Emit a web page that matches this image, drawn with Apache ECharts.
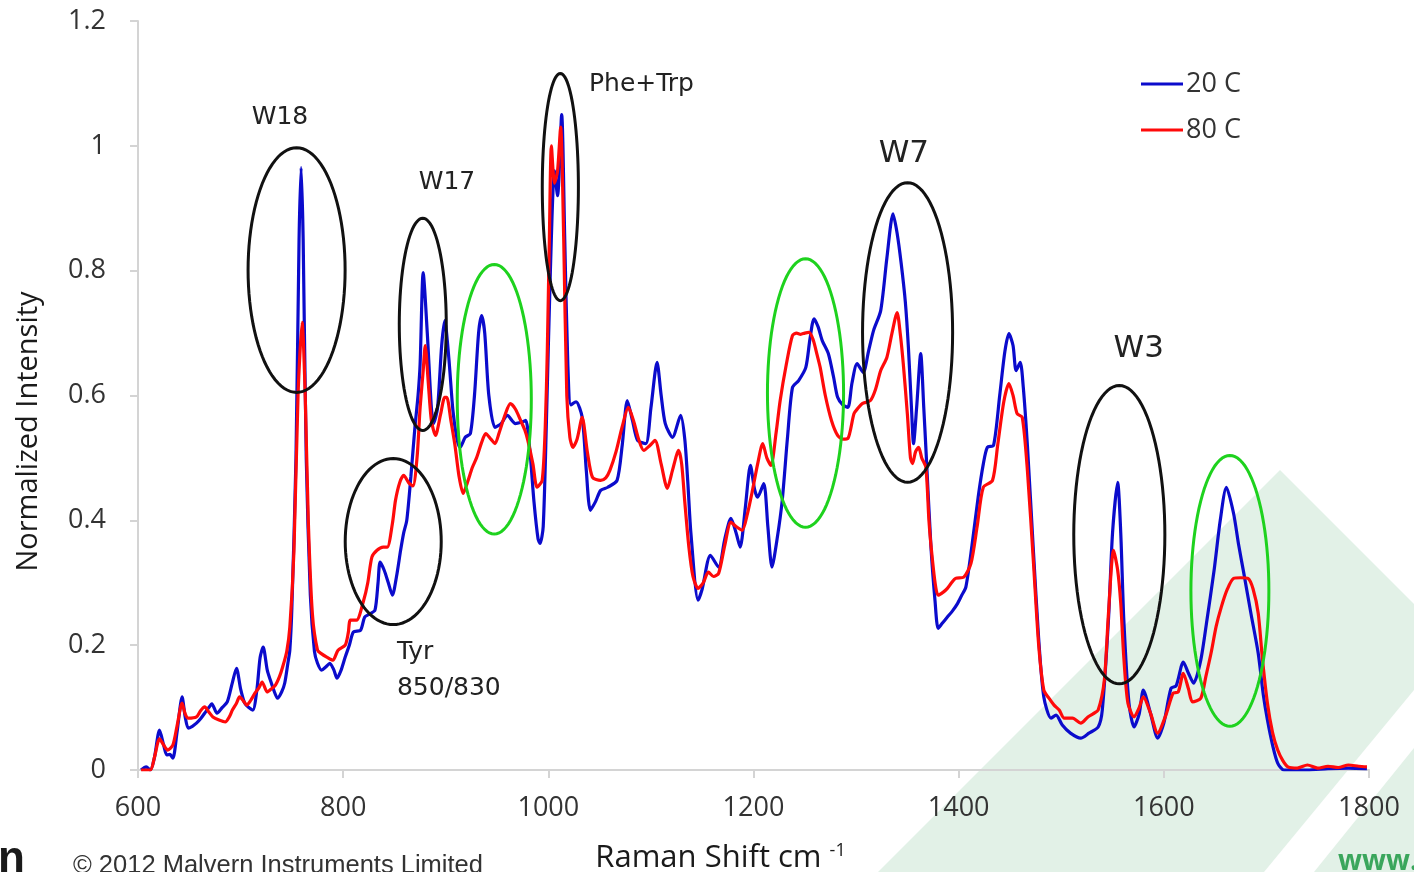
<!DOCTYPE html>
<html>
<head>
<meta charset="utf-8">
<script src="https://cdn.jsdelivr.net/npm/echarts@6/dist/echarts.min.js"></script>
<style>html,body{margin:0;padding:0;background:#fff;}#c{width:1414px;height:872px;}</style>
</head>
<body>
<div id="c"></div>
<script>
// ---- data ----
const xTicks = [600, 800, 1000, 1200, 1400, 1600, 1800];
const yTicks = [0, 0.2, 0.4, 0.6, 0.8, 1, 1.2];

const blueShift = [603,608,612,616,621,625,628,631,634,638,643,646,649,653,657,661,665,669,672,677,682,687,692,696,700,704,708,712,716,719,722,726,729,733,736,740,743,746,748,750,754,757,759,761,764,768,772,775,779,783,787,791,794,798,802,806,810,817,821,826,831,834,836,840,844,848,852,856,859,862,866,870,873,875,878,882,886,888,892,896,899,903,907,911,914,919,924,928,932,935,938,942,948,954,960,968,975,978,982,986,990,992,995,998,1002,1006,1009,1013,1016,1019,1022,1027,1033,1037,1041,1046,1051,1058,1067,1072,1077,1082,1087,1095,1100,1106,1110,1114,1121,1129,1133,1136,1139,1146,1150,1158,1166,1172,1178,1183,1187,1192,1197,1201,1204,1210,1214,1218,1223,1228,1233,1238,1244,1251,1255,1259,1263,1267,1273,1278,1282,1287,1292,1296,1301,1307,1312,1317,1324,1330,1336,1340,1344,1348,1351,1354,1356,1359,1363,1366,1368,1373,1377,1380,1384,1389,1394,1399,1403,1407,1413,1419,1424,1428,1434,1440,1445,1449,1453,1456,1460,1463,1467,1473,1478,1483,1490,1495,1501,1509,1519,1527,1536,1540,1546,1550,1555,1558,1561,1566,1571,1576,1580,1587,1594,1600,1607,1612,1619,1624,1629,1636,1642,1649,1655,1661,1668,1673,1678,1685,1692,1697,1701,1706,1711,1717,1740,1760,1780,1798];
const blueIntensity = [0,0.005,0,0.02,0.064,0.04,0.024,0.025,0.019,0.06,0.117,0.085,0.067,0.07,0.075,0.082,0.091,0.1,0.106,0.091,0.1,0.109,0.14,0.163,0.13,0.107,0.1,0.096,0.13,0.18,0.197,0.16,0.144,0.125,0.115,0.125,0.139,0.17,0.192,0.26,0.5,0.85,0.965,0.85,0.5,0.28,0.19,0.171,0.16,0.165,0.171,0.16,0.147,0.16,0.181,0.2,0.221,0.224,0.245,0.25,0.256,0.3,0.333,0.32,0.3,0.28,0.31,0.352,0.38,0.4,0.47,0.55,0.6,0.65,0.797,0.7,0.58,0.555,0.58,0.68,0.72,0.66,0.576,0.53,0.517,0.533,0.539,0.6,0.7,0.728,0.7,0.6,0.549,0.555,0.568,0.555,0.558,0.56,0.512,0.43,0.37,0.363,0.39,0.55,0.8,0.96,0.92,1.05,0.85,0.65,0.585,0.59,0.565,0.48,0.416,0.43,0.448,0.453,0.464,0.52,0.592,0.56,0.528,0.523,0.58,0.653,0.6,0.555,0.533,0.568,0.53,0.46,0.379,0.272,0.29,0.344,0.325,0.37,0.403,0.38,0.357,0.42,0.488,0.45,0.437,0.459,0.39,0.325,0.37,0.432,0.53,0.613,0.624,0.645,0.69,0.723,0.71,0.688,0.667,0.63,0.597,0.585,0.581,0.62,0.651,0.637,0.67,0.704,0.736,0.82,0.891,0.86,0.811,0.75,0.677,0.58,0.523,0.58,0.667,0.58,0.517,0.357,0.27,0.227,0.235,0.245,0.255,0.267,0.28,0.293,0.36,0.437,0.49,0.517,0.52,0.6,0.67,0.699,0.68,0.64,0.653,0.613,0.52,0.347,0.21,0.117,0.083,0.088,0.072,0.059,0.051,0.059,0.069,0.096,0.24,0.38,0.461,0.38,0.24,0.107,0.069,0.09,0.128,0.091,0.051,0.075,0.131,0.135,0.173,0.155,0.139,0.176,0.24,0.32,0.4,0.453,0.411,0.36,0.315,0.25,0.187,0.12,0.08,0.04,0.011,0,0,0.002,0.003,0.002];

const redShift = [603,612,616,621,625,629,634,638,643,646,649,657,661,665,669,673,679,685,689,692,696,699,703,706,710,714,718,721,726,730,734,738,741,745,748,752,756,760,763,766,770,775,779,784,790,795,802,805,807,813,820,824,828,833,839,843,848,851,855,859,864,868,872,875,878,880,883,886,890,895,899,901,905,909,913,917,921,926,930,935,939,944,948,952,958,963,968,973,977,980,985,989,994,997,999,1001,1003,1006,1009,1012,1015,1018,1021,1024,1028,1033,1038,1043,1051,1056,1060,1066,1072,1078,1083,1088,1093,1099,1104,1110,1116,1121,1127,1130,1133,1137,1141,1146,1151,1156,1161,1166,1172,1178,1183,1189,1194,1199,1204,1209,1213,1217,1222,1226,1232,1238,1242,1246,1250,1254,1258,1262,1265,1270,1276,1282,1287,1292,1298,1302,1306,1314,1319,1324,1330,1335,1340,1343,1346,1350,1353,1355,1358,1361,1364,1368,1371,1373,1377,1380,1385,1389,1393,1397,1405,1412,1418,1424,1433,1438,1444,1449,1453,1457,1462,1467,1473,1478,1483,1488,1493,1498,1503,1511,1519,1526,1531,1536,1542,1546,1551,1555,1558,1561,1565,1571,1576,1580,1587,1594,1602,1609,1614,1619,1624,1628,1636,1641,1646,1651,1656,1662,1668,1675,1682,1687,1692,1696,1701,1706,1711,1716,1721,1730,1740,1750,1760,1770,1780,1790,1798];
const redIntensity = [0,0,0.02,0.05,0.04,0.032,0.04,0.07,0.107,0.09,0.083,0.085,0.095,0.101,0.093,0.085,0.08,0.077,0.085,0.096,0.107,0.117,0.11,0.104,0.112,0.123,0.132,0.141,0.125,0.13,0.136,0.15,0.165,0.19,0.229,0.35,0.6,0.717,0.6,0.4,0.25,0.192,0.186,0.181,0.176,0.192,0.2,0.22,0.24,0.24,0.272,0.3,0.341,0.352,0.357,0.357,0.395,0.432,0.46,0.472,0.46,0.455,0.5,0.58,0.64,0.68,0.62,0.56,0.536,0.57,0.597,0.597,0.56,0.52,0.47,0.443,0.46,0.485,0.5,0.525,0.539,0.53,0.523,0.54,0.57,0.587,0.578,0.56,0.545,0.528,0.49,0.453,0.464,0.55,0.672,0.85,1.0,0.94,0.96,1.03,0.85,0.6,0.533,0.517,0.53,0.565,0.51,0.469,0.464,0.468,0.48,0.51,0.55,0.581,0.56,0.53,0.512,0.52,0.528,0.49,0.451,0.48,0.512,0.49,0.43,0.357,0.31,0.291,0.3,0.317,0.31,0.315,0.36,0.397,0.39,0.384,0.41,0.448,0.49,0.523,0.5,0.488,0.54,0.592,0.65,0.696,0.7,0.698,0.7,0.701,0.69,0.665,0.645,0.6,0.56,0.536,0.53,0.531,0.571,0.58,0.587,0.592,0.61,0.64,0.661,0.7,0.733,0.7,0.651,0.57,0.5,0.491,0.51,0.517,0.5,0.485,0.4,0.36,0.3,0.28,0.285,0.291,0.3,0.307,0.309,0.331,0.39,0.453,0.464,0.52,0.59,0.619,0.6,0.571,0.565,0.48,0.33,0.2,0.128,0.115,0.104,0.096,0.083,0.083,0.075,0.085,0.09,0.096,0.144,0.25,0.352,0.32,0.267,0.18,0.107,0.085,0.1,0.117,0.091,0.059,0.088,0.123,0.125,0.155,0.13,0.109,0.115,0.15,0.187,0.23,0.261,0.29,0.307,0.308,0.307,0.29,0.251,0.18,0.107,0.06,0.032,0.015,0.005,0.003,0.008,0.003,0.006,0.004,0.008,0.006,0.005];

// annotation ellipses (data coordinates)
const ellipseShift     = [754.6, 877.6, 848.8, 947.3, 1011.7, 1250.7, 1350.2, 1556.6, 1664.4];
const ellipseIntensity = [0.801, 0.714, 0.366, 0.594, 0.934, 0.604, 0.701, 0.377, 0.287];
const ellipseHalfShift = [47.3, 22.9, 46.8, 36.1, 17.6, 37.1, 43.9, 44.4, 38.0];
const ellipseHalfInt   = [0.196, 0.170, 0.133, 0.216, 0.182, 0.215, 0.240, 0.239, 0.217];
const ellipseKind      = ['black','black','black','green','black','green','black','black','green'];

// annotation labels
const labelText      = ['W18', 'W17', 'Tyr', '850/830', 'Phe+Trp', 'W7', 'W3'];
const labelShift     = [738.4, 901.2, 852.4, 852.4, 1039.6, 1346.6, 1575.6];
const labelIntensity = [1.045, 0.941, 0.189, 0.131, 1.098, 0.987, 0.674];
const labelAlign     = ['center','center','left','left','left','center','center'];
const labelSize      = [25, 25, 25, 25, 25, 31, 31];

const seriesNames = ['20 C', '80 C'];

// ---- build ----
const zip = (a, b) => a.map((v, i) => [v, b[i]]);
const ellipseData = ellipseShift.map((v, i) => [v, ellipseIntensity[i], ellipseHalfShift[i], ellipseHalfInt[i], ellipseKind[i]]);
const labelData = labelText.map((t, i) => [labelShift[i], labelIntensity[i], t, labelAlign[i], labelSize[i]]);

const chart = echarts.init(document.getElementById('c'), null, {renderer: 'canvas'});
const tickFont = 'Open Sans';
chart.setOption({
  backgroundColor: '#ffffff',
  animation: false,
  grid: {left: 138, right: 45, top: 21, bottom: 102, containLabel: false, outerBoundsMode: 'none'},
  graphic: [
    {type: 'polygon', z: -10, silent: true, shape: {points: [[878,872],[1280,470],[1414,604],[1414,690],[1264,872]]}, style: {fill: '#e2f1e7'}},
    {type: 'polygon', z: -10, silent: true, shape: {points: [[1314,872],[1414,748],[1414,872]]}, style: {fill: '#e2f1e7'}},
    {type: 'text', left: -2, top: 838, silent: true, style: {text: 'n', font: 'bold 44px "Liberation Sans"', fill: '#1a1a1a'}},
    {type: 'text', left: 73, top: 853, silent: true, style: {text: '\u00a9 2012 Malvern Instruments Limited', font: '25.5px "Liberation Sans"', fill: '#333'}},
    {type: 'text', left: 1338, top: 848, silent: true, style: {text: 'www.', font: 'bold 28px "Open Sans"', fill: '#3aa65c'}}
  ],
  legend: {
    data: seriesNames,
    orient: 'vertical',
    left: 1136, top: 64,
    icon: 'rect', itemWidth: 42, itemHeight: 3, itemGap: 16,
    textStyle: {fontFamily: tickFont, fontSize: 27, color: '#333', lineHeight: 30, padding: [0,0,0,-2]}
  },
  xAxis: {
    type: 'value', min: 600, max: 1800, interval: 200,
    name: '{a|Raman Shift cm }{b|-1}',
    nameLocation: 'middle', nameGap: 72,
    nameTextStyle: {padding: [0, 66, 0, 0], rich: {
      a: {fontFamily: tickFont, fontSize: 31, color: '#1a1a1a'},
      b: {fontFamily: tickFont, fontSize: 18, color: '#1a1a1a', verticalAlign: 'top', padding: [0,0,14,0]}
    }},
    axisLine: {show: true, lineStyle: {color: '#d4d4d4', width: 2}},
    axisTick: {show: true, length: 8, lineStyle: {color: '#d4d4d4', width: 2}},
    axisLabel: {fontFamily: tickFont, fontSize: 27, color: '#333', margin: 25, formatter: v => String(v)},
    splitLine: {show: false}
  },
  yAxis: {
    type: 'value', min: 0, max: 1.2, interval: 0.2,
    name: 'Normalized Intensity',
    nameLocation: 'middle', nameGap: 95, nameRotate: 90,
    nameTextStyle: {fontFamily: tickFont, fontSize: 29, color: '#1a1a1a', padding: [0, 72, 0, 0]},
    axisLine: {show: true, lineStyle: {color: '#d4d4d4', width: 2}},
    axisTick: {show: true, length: 8, lineStyle: {color: '#d4d4d4', width: 2}},
    axisLabel: {fontFamily: tickFont, fontSize: 27, color: '#333', margin: 32, formatter: v => String(Math.round(v * 10) / 10)},
    splitLine: {show: false}
  },
  series: [
    {
      name: seriesNames[0], type: 'line', data: zip(blueShift, blueIntensity),
      showSymbol: false, smooth: 0.25, z: 3,
      lineStyle: {color: '#0b0bcc', width: 3.2}, itemStyle: {color: '#0b0bcc'}
    },
    {
      name: seriesNames[1], type: 'line', data: zip(redShift, redIntensity),
      showSymbol: false, smooth: 0.25, z: 4,
      lineStyle: {color: '#ff0a0a', width: 3.2}, itemStyle: {color: '#ff0a0a'}
    },
    {
      type: 'custom', silent: true, z: 5,
      data: ellipseData,
      renderItem: function (params, api) {
        const c = api.coord([api.value(0), api.value(1)]);
        const s = api.size([api.value(2), api.value(3)]);
        const kind = ellipseData[params.dataIndex][4];
        const pts = [];
        for (let k = 0; k < 96; k++) {
          const t = k / 96 * Math.PI * 2;
          pts.push([c[0] + s[0] * Math.cos(t), c[1] + s[1] * Math.sin(t)]);
        }
        return {type: 'polygon', shape: {points: pts},
          style: {fill: 'none', stroke: kind === 'green' ? '#1ed21e' : '#111111', lineWidth: 3}};
      }
    },
    {
      type: 'custom', silent: true, z: 6,
      data: labelData,
      renderItem: function (params, api) {
        const d = labelData[params.dataIndex];
        const c = api.coord([d[0], d[1]]);
        return {type: 'text', x: c[0], y: c[1],
          style: {text: d[2], fill: '#222', font: d[4] + 'px "DejaVu Sans"', textAlign: d[3], textVerticalAlign: 'middle'}};
      }
    }
  ]
});
</script>
</body>
</html>
